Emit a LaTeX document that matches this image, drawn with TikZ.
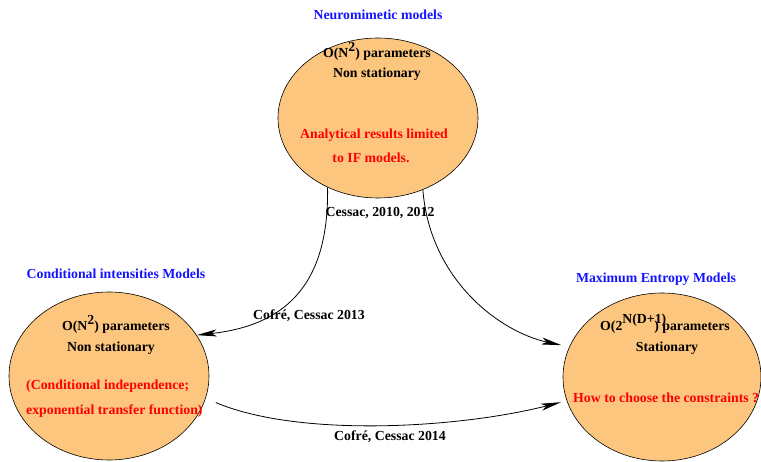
\documentclass[tikz,border=0pt]{standalone}
\usepackage{fontspec}
\setmainfont{Liberation Serif}
\usetikzlibrary{shapes.geometric,arrows.meta}
\definecolor{ellfill}{RGB}{253,198,126}
\definecolor{ttlblue}{RGB}{20,20,255}
\definecolor{remred}{RGB}{255,0,0}
\tikzset{
  model/.style={ellipse,draw=black,line width=0.6pt,fill=ellfill,inner sep=0pt},
  txt/.style={inner sep=0pt,font=\fontsize{13.8}{16}\selectfont\bfseries},
  ttl/.style={txt,text=ttlblue},
  rem/.style={txt,text=remred},
  lbl/.style={txt},
  conn/.style={draw=black,line width=0.8pt,-{Stealth[length=20pt,width=7pt,inset=5pt]}}
}
\newcommand{\sqsup}{\raisebox{6pt}{2}}
\begin{document}
\begin{tikzpicture}[x=1pt,y=-1pt]
\useasboundingbox (0,0) rectangle (761,462);
% ellipses
\node[model,minimum width=200pt,minimum height=160pt] (top) at (378,118) {};
\node[model,minimum width=200pt,minimum height=168pt] (cim) at (109,376) {};
\node[model,minimum width=198pt,minimum height=168pt] (mem) at (662,377) {};
% titles
\node[ttl] (ttop) at (378,15) {Neuromimetic models};
\node[ttl] (tcim) at (116,274) {Conditional intensities Models};
\node[ttl] (tmem) at (656,279) {Maximum Entropy Models};
% top texts
\node[txt] (p1) at (377,51) {O(N\sqsup) parameters};
\node[txt] (s1) at (377,74) {Non stationary};
\node[rem] (r1a) at (374,135) {Analytical results limited};
\node[rem] (r1b) at (371,158) {to IF models.};
% left texts
\node[txt] (p2) at (116,324) {O(N\sqsup) parameters};
\node[txt] (s2) at (111,348) {Non stationary};
\node[rem,anchor=west] (r2a) at (26,386) {(Conditional independence;};
\node[rem,anchor=west] (r2b) at (26,411) {exponential transfer function)};
% right texts
\node[txt] (p3) at (665,324) {O(2\raisebox{7pt}{N(D+1)}\hspace{-12pt}) parameters};
\node[txt] (s3) at (667,348) {Stationary};
\node[rem,anchor=west] (r3) at (573,398) {How to choose the constraints ?};
% connectors
\draw[conn] (top.234) .. controls (329,280) and (290,325) .. (cim.25);
\draw[conn,shorten >=8pt] (top.302) .. controls (430,280) and (500,332) .. (mem.162);
\draw[conn,shorten <=11pt,shorten >=6pt] (cim.-13) .. controls (300,438) and (460,428) .. (mem.-166);
% labels
\node[lbl] (l1) at (380,213) {Cessac, 2010, 2012};
\node[lbl] (l2) at (309,316) {Cofré, Cessac 2013};
\node[lbl] (l3) at (390,437) {Cofré, Cessac 2014};
\end{tikzpicture}
\end{document}
